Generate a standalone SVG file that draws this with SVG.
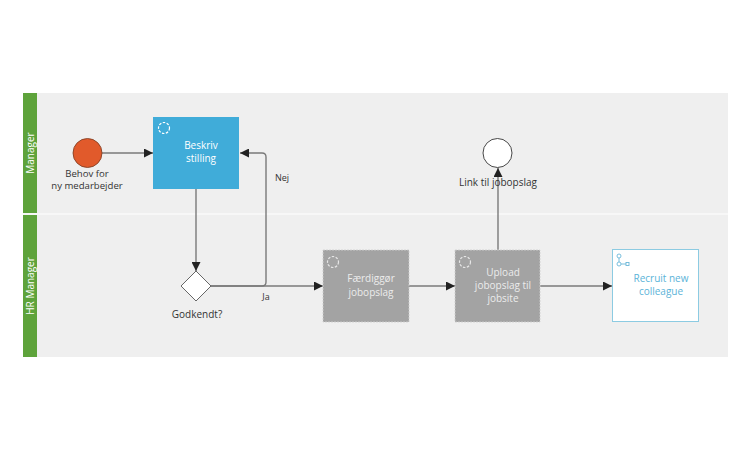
<svg xmlns="http://www.w3.org/2000/svg" width="750" height="450" viewBox="0 0 750 450">
<style>
text{font-family:"Open Sans","Noto Sans","DejaVu Sans",sans-serif;font-size:10px;}
.lbl{fill:#333;text-anchor:middle;}
.lane{fill:#fff;text-anchor:middle;}
.tw{fill:#fff;text-anchor:middle;}
.tg{fill:#ececec;text-anchor:middle;}
.tb{fill:#5bb3d8;text-anchor:middle;}
.flow{fill:none;stroke:#7a7a7a;stroke-width:1.4;}
.loop{fill:none;stroke:#fff;stroke-width:1.2;stroke-dasharray:2.5 1.5;}
</style>
<defs>
<marker id="arr" viewBox="0 0 10 10" refX="10" refY="5" markerWidth="9" markerHeight="9" markerUnits="userSpaceOnUse" orient="auto">
<path d="M0,0 L10,5 L0,10 z" fill="#222"/>
</marker>
</defs>
<rect width="750" height="450" fill="#fff"/>
<g id="pool">
<rect x="23" y="93" width="705" height="264" fill="#efefef"/>
<rect x="23" y="93" width="14" height="120" fill="#5ea33b"/>
<rect x="23" y="215" width="14" height="142" fill="#5ea33b"/>
<line x1="23" y1="214" x2="728" y2="214" stroke="#fff" stroke-width="1.2"/>
<text class="lane" transform="translate(33.5,153) rotate(-90)">Manager</text>
<text class="lane" transform="translate(33.5,286) rotate(-90)">HR Manager</text>
</g>
<g id="connectors">
<line class="flow" x1="102" y1="153" x2="153" y2="153" marker-end="url(#arr)"/>
<line class="flow" x1="196" y1="189" x2="196" y2="271" marker-end="url(#arr)"/>
<path class="flow" d="M211,286 H262 Q266,286 266,282 V157 Q266,153 262,153 H240" marker-end="url(#arr)"/>
<line class="flow" x1="211" y1="286" x2="323" y2="286" marker-end="url(#arr)"/>
<line class="flow" x1="409" y1="286" x2="455" y2="286" marker-end="url(#arr)"/>
<line class="flow" x1="498" y1="250" x2="498" y2="168" marker-end="url(#arr)"/>
<line class="flow" x1="540" y1="286" x2="612" y2="286" marker-end="url(#arr)"/>
<text class="lbl" x="282" y="181" style="font-size:9px">Nej</text>
<text class="lbl" x="266" y="300" style="font-size:9px">Ja</text>
</g>
<g id="start">
<circle cx="87.5" cy="153" r="14.5" fill="#e15a2b" stroke="#7a3a20" stroke-width="0.8"/>
<text class="lbl" x="87" y="176.5" style="font-size:9.6px"><tspan x="87">Behov for</tspan><tspan x="87" dy="12">ny medarbejder</tspan></text>
</g>
<g id="beskriv">
<rect x="153" y="117" width="86" height="72" fill="#40acd9"/>
<circle class="loop" cx="164" cy="128" r="5.5"/>
<text class="tw" x="201" y="149"><tspan x="201">Beskriv</tspan><tspan x="201" dy="13">stilling</tspan></text>
</g>
<g id="gateway">
<path d="M196,271 L211,286 L196,301 L181,286 z" fill="#fff" stroke="#666" stroke-width="1"/>
<text class="lbl" x="197" y="318">Godkendt?</text>
</g>
<g id="faerdiggoer">
<rect x="323" y="250" width="86" height="72" fill="#a3a3a3" stroke="#cfcfcf" stroke-width="0.8" stroke-dasharray="2 1"/>
<circle class="loop" cx="333" cy="262" r="5.5" style="stroke:#e6e6e6"/>
<text class="tg" x="371" y="282"><tspan x="371">Færdiggør</tspan><tspan x="371" dy="14">jobopslag</tspan></text>
</g>
<g id="upload">
<rect x="455" y="250" width="85" height="72" fill="#a3a3a3" stroke="#cfcfcf" stroke-width="0.8" stroke-dasharray="2 1"/>
<circle class="loop" cx="465" cy="262" r="5.5" style="stroke:#e6e6e6"/>
<text class="tg" x="503" y="276"><tspan x="503">Upload</tspan><tspan x="503" dy="13">jobopslag til</tspan><tspan x="503" dy="13">jobsite</tspan></text>
</g>
<g id="end">
<circle cx="497.5" cy="153" r="14.5" fill="#fff" stroke="#333" stroke-width="0.9"/>
<text class="lbl" x="498" y="186">Link til jobopslag</text>
</g>
<g id="recruit">
<rect x="612.5" y="249.5" width="86" height="72" fill="#fff" stroke="#8ccbe2" stroke-width="1"/>
<g fill="none" stroke="#6ab7d8" stroke-width="0.9">
<circle cx="619" cy="256" r="2"/>
<line x1="619" y1="258" x2="619" y2="262"/>
<circle cx="619" cy="264" r="2"/>
<line x1="621" y1="264" x2="626" y2="264"/>
<rect x="626" y="262.5" width="3" height="3"/>
</g>
<text class="tb" x="661" y="282"><tspan x="661">Recruit new</tspan><tspan x="661" dy="13">colleague</tspan></text>
</g>
</svg>
